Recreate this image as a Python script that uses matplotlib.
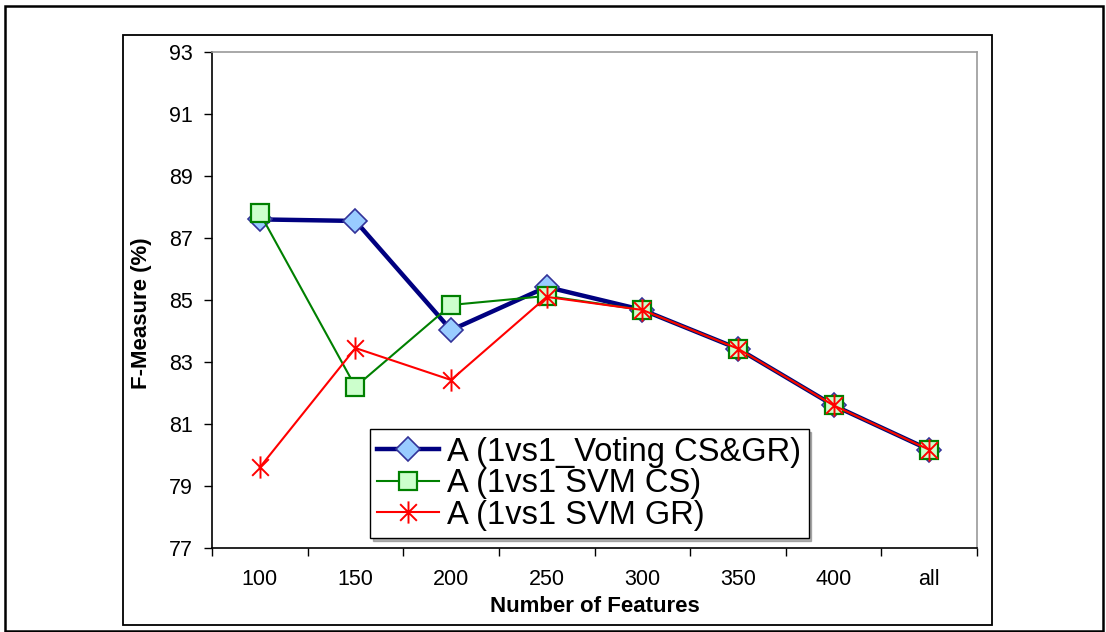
import matplotlib
matplotlib.use("Agg")
import matplotlib.pyplot as plt
from matplotlib.path import Path
from matplotlib.patches import Rectangle
from matplotlib.ticker import FixedLocator

plt.rcParams['font.family'] = ['Liberation Sans', 'DejaVu Sans']

categories = ["100", "150", "200", "250", "300", "350", "400", "all"]
voting_cs_gr = [87.6, 87.55, 84.03, 85.42, 84.68, 83.43, 81.6, 80.17]
svm_cs = [87.8, 82.2, 84.84, 85.13, 84.68, 83.43, 81.6, 80.17]
svm_gr = [79.6, 83.45, 82.42, 85.1, 84.68, 83.43, 81.6, 80.17]
y_ticks = [77, 79, 81, 83, 85, 87, 89, 91, 93]

W, H = 1106, 632
fig = plt.figure(figsize=(W / 100, H / 100), dpi=100)

# outer frame and chart-area frame
fig.patches.append(Rectangle((5 / W, 1 / H), 1098 / W, 625 / H, transform=fig.transFigure,
                             fill=False, edgecolor='black', linewidth=1.8))
fig.patches.append(Rectangle((123 / W, 7 / H), 869 / W, 590 / H, transform=fig.transFigure,
                             fill=False, edgecolor='black', linewidth=1.3))

ax = fig.add_axes([212 / W, (H - 548) / H, (977 - 212) / W, (548 - 52) / H])

x = list(range(len(categories)))

# Asterisk marker: vertical bar crossed by an X
star = Path([(0, -1), (0, 1), (-0.75, -0.75), (0.75, 0.75), (-0.75, 0.75), (0.75, -0.75)],
            [Path.MOVETO, Path.LINETO, Path.MOVETO, Path.LINETO, Path.MOVETO, Path.LINETO])

ax.plot(x, voting_cs_gr, color='#000080', linewidth=3.2, marker='D', markersize=12,
        markerfacecolor='#99CCFF', markeredgecolor='#333399', markeredgewidth=1.2,
        label='A (1vs1_Voting CS&GR)', zorder=3)
ax.plot(x, svm_cs, color='#008000', linewidth=1.5, marker='s', markersize=13,
        markerfacecolor='#CCFFCC', markeredgecolor='#008000', markeredgewidth=1.6,
        label='A (1vs1 SVM CS)', zorder=4)
ax.plot(x, svm_gr, color='#FF0000', linewidth=1.5, marker=star, markersize=16,
        markerfacecolor='none', markeredgecolor='#FF0000', markeredgewidth=1.4,
        label='A (1vs1 SVM GR)', zorder=5)

ax.set_xlim(-0.5, len(categories) - 0.5)
ax.set_ylim(77, 93)
ax.set_yticks(y_ticks)
ax.set_xticks(x)
ax.set_xticklabels(categories)
ax.xaxis.set_minor_locator(FixedLocator([i - 0.5 for i in range(len(categories) + 1)]))
ax.tick_params(axis='x', which='major', length=0, pad=15, labelsize=15.5)
ax.tick_params(axis='x', which='minor', length=6, width=1, direction='out')
ax.tick_params(axis='y', length=6, width=1, direction='out', pad=8, labelsize=15.5)

for side in ('top', 'right'):
    ax.spines[side].set_color('#9a9a9a')
    ax.spines[side].set_linewidth(1.2)
for side in ('left', 'bottom'):
    ax.spines[side].set_color('black')
    ax.spines[side].set_linewidth(1.2)

fig.text(141 / W, (H - 313) / H, 'F-Measure (%)', rotation=90, ha='center', va='center',
         fontsize=16, fontweight='bold')
fig.text(595 / W, (H - 612) / H, 'Number of Features', ha='center', va='baseline',
         fontsize=16, fontweight='bold')

leg = ax.legend(loc='lower left', bbox_to_anchor=((370 - 212) / (977 - 212), (548 - 538) / 496),
                fontsize=23.5, frameon=True, fancybox=False, shadow={'color': '#808080', 'alpha': 0.6},
                edgecolor='black', borderpad=0.22, labelspacing=0.02, handlelength=1.9,
                handletextpad=0.25, borderaxespad=0)
leg.get_frame().set_linewidth(1.0)

fig.savefig('out.png', dpi=100)
